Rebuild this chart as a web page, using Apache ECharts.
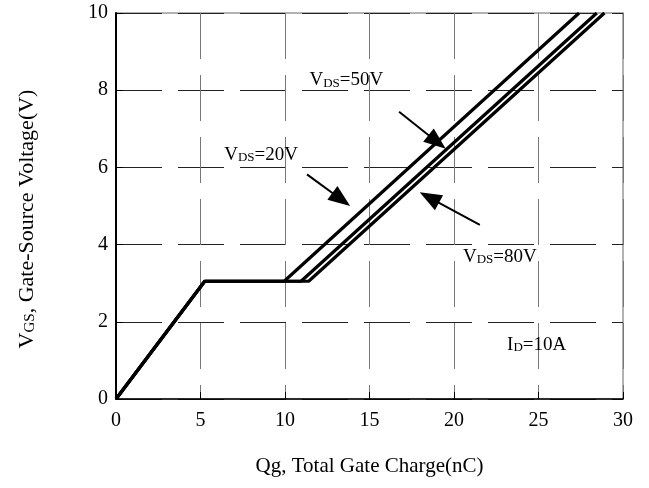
<!DOCTYPE html>
<html>
<head>
<meta charset="utf-8">
<script src="https://cdn.jsdelivr.net/npm/echarts@6/dist/echarts.min.js"></script>
<style>
  html, body { margin: 0; padding: 0; background: #fff; }
  #chart { width: 649px; height: 488px; }
</style>
</head>
<body>
<div id="chart"></div>
<script>
// Gate charge curves: [Qg (nC), VGS (V)]
const vds20 = [[0, 0], [5.25, 3.05], [9.95, 3.05], [27.4, 10]];
const vds50 = [[0, 0], [5.25, 3.05], [10.95, 3.05], [28.45, 10]];
const vds80 = [[0, 0], [5.25, 3.05], [11.4, 3.05], [28.9, 10]];

// Axis ticks
const xTicks = [0, 5, 10, 15, 20, 25, 30];
const yTicks = [0, 2, 4, 6, 8, 10];

// Annotation text anchors (left edge, vertical middle) in data units
const labelItems = [
  { text: '{a|V}{s|DS}{a|=50V}', coord: [11.45, 8.27] },
  { text: '{a|V}{s|DS}{a|=20V}', coord: [6.4, 6.34] },
  { text: '{a|V}{s|DS}{a|=80V}', coord: [20.53, 3.70] },
  { text: '{a|I}{s|D}{a|=10A}', coord: [23.14, 1.42] }
];

// Pointer arrows: [tail, head] in data units
const arrows = [
  [[16.75, 7.44], [19.0, 6.66]],
  [[11.30, 5.82], [13.33, 5.17]],
  [[21.53, 4.51], [18.54, 5.22]]
];

const FONT = "'Liberation Serif', 'Times New Roman', serif";
const richText = {
  a: { fontFamily: FONT, fontSize: 19, color: '#000', verticalAlign: 'bottom', lineHeight: 20 },
  s: { fontFamily: FONT, fontSize: 13, color: '#000', verticalAlign: 'bottom', lineHeight: 20 }
};

const lineStyle = { color: '#000', width: 3.2 };

function curve(name, data) {
  return {
    name: name,
    type: 'line',
    data: data,
    symbol: 'none',
    lineStyle: lineStyle,
    z: 5
  };
}

const chart = echarts.init(document.getElementById('chart'), null, { renderer: 'canvas' });

chart.setOption({
  backgroundColor: '#fff',
  animation: false,
  grid: {
    left: 116, right: 26, top: 13, bottom: 89,
    show: true, borderColor: '#999', borderWidth: 1.5, backgroundColor: 'transparent'
  },
  xAxis: {
    type: 'value',
    min: xTicks[0], max: xTicks[xTicks.length - 1], interval: 5,
    name: 'Qg, Total Gate Charge(nC)',
    nameLocation: 'middle', nameGap: 57,
    nameTextStyle: { fontFamily: FONT, fontSize: 21, color: '#000' },
    axisLine: { show: true, lineStyle: { color: '#000', width: 1.5 } },
    axisTick: { show: true, inside: true, length: 7, lineStyle: { color: '#000', width: 1 } },
    axisLabel: { fontFamily: FONT, fontSize: 20, color: '#000', margin: 12 },
    splitLine: { show: true, lineStyle: { color: '#777', width: 1, type: [46, 16] } }
  },
  yAxis: {
    type: 'value',
    min: yTicks[0], max: yTicks[yTicks.length - 1], interval: 2,
    name: '{a|V}{s|GS}{a|, Gate-Source Voltage(V)}',
    nameLocation: 'middle', nameGap: 78,
    nameTextStyle: {
      fontFamily: FONT, fontSize: 22, color: '#000', padding: [0, 26, 0, 0],
      rich: {
        a: { fontFamily: FONT, fontSize: 22, color: '#000', verticalAlign: 'bottom', lineHeight: 23 },
        s: { fontFamily: FONT, fontSize: 15, color: '#000', verticalAlign: 'bottom', lineHeight: 23 }
      }
    },
    axisLine: { show: true, lineStyle: { color: '#000', width: 2 } },
    axisTick: { show: true, inside: true, length: 7, lineStyle: { color: '#000', width: 1 } },
    axisLabel: { fontFamily: FONT, fontSize: 20, color: '#000', margin: 8 },
    splitLine: { show: true, lineStyle: { color: '#222', width: 1, type: [46, 16] } }
  },
  series: [
    Object.assign(curve('VDS=20V', vds20), {
      markPoint: {
        symbol: 'circle', symbolSize: 0, silent: true,
        label: {
          show: true, position: 'right', distance: 0,
          formatter: function (p) { return p.data.text; },
          rich: richText
        },
        data: labelItems.map(function (d) { return { coord: d.coord, text: d.text }; })
      },
      markLine: {
        silent: true,
        symbol: ['none', 'triangle'],
        symbolSize: [17, 22],
        lineStyle: { color: '#000', width: 2, type: 'solid' },
        label: { show: false },
        data: arrows.map(function (a) { return [{ coord: a[0] }, { coord: a[1] }]; })
      }
    }),
    curve('VDS=50V', vds50),
    curve('VDS=80V', vds80)
  ]
});
</script>
</body>
</html>
